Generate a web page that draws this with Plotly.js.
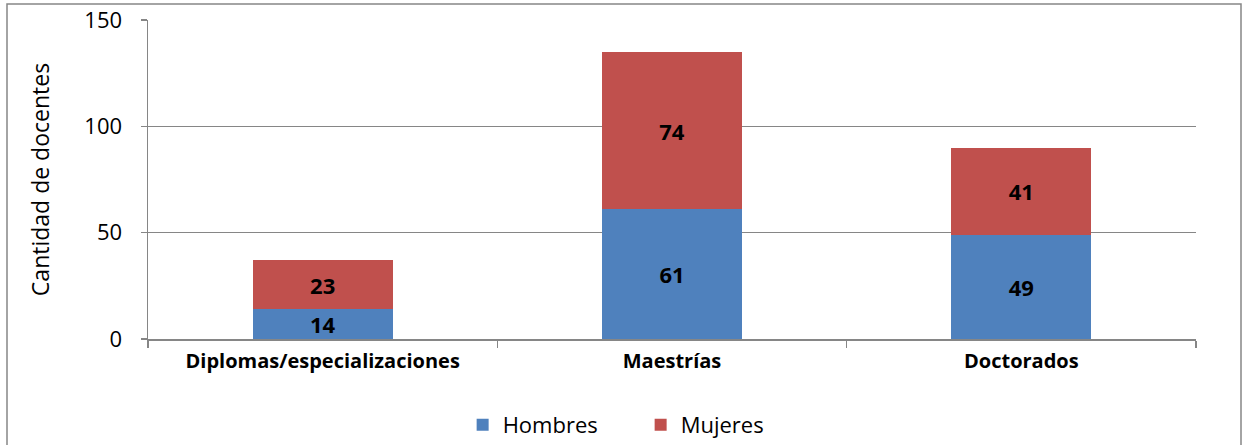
<!DOCTYPE html>
<html>
<head>
<meta charset="utf-8">
<script src="https://cdn.plot.ly/plotly-3.0.1.min.js"></script>
<style>html,body{margin:0;padding:0;background:#fff;}#chart{width:1247px;height:445px;}</style>
</head>
<body>
<div id="chart"></div>
<script>
const categories = ["Diplomas/especializaciones", "Maestrías", "Doctorados"];
const hombres = [14, 61, 49];
const mujeres = [23, 74, 41];
const yTicks = [0, 50, 100, 150];

const FONT = "Open Sans, Liberation Sans, sans-serif";
const labelFont = {family: FONT, size: 22, color: "#000000", weight: "bold"};

const traces = [
  {type: "bar", name: "Hombres", x: categories, y: hombres, text: hombres.map(String),
   textposition: "inside", insidetextanchor: "middle", textangle: 0,
   textfont: labelFont, marker: {color: "#4F81BD"}, width: 0.4},
  {type: "bar", name: "Mujeres", x: categories, y: mujeres, text: mujeres.map(String),
   textposition: "inside", insidetextanchor: "middle", textangle: 0,
   textfont: labelFont, marker: {color: "#C0504D"}, width: 0.4}
];

const layout = {
  width: 1247, height: 445,
  barmode: "stack",
  uniformtext: {mode: "show", minsize: 22},
  margin: {l: 148, r: 51, t: 20, b: 106, autoexpand: false},
  paper_bgcolor: "#ffffff", plot_bgcolor: "#ffffff",
  font: {family: FONT, color: "#000000"},
  showlegend: true,
  legend: {orientation: "h", xref: "container", yref: "container", x: 0.371, xanchor: "left",
           y: 0.045, yanchor: "middle", entrywidth: 133, entrywidthmode: "pixels",
           font: {family: FONT, size: 22, color: "#000000"}, traceorder: "normal"},
  xaxis: {type: "category", showgrid: false, showline: true, linecolor: "#868686", linewidth: 1.5,
          ticks: "outside", tickson: "boundaries", ticklen: 7, tickcolor: "#868686", tickwidth: 1.5,
          ticklabelstandoff: 3,
          tickfont: {family: FONT, size: 20, color: "#000000", weight: "bold"}},
  yaxis: {range: [0, 150], tickvals: yTicks, ticktext: yTicks.map(String), showgrid: true,
          gridcolor: "#868686", gridwidth: 1.5, showline: true, linecolor: "#868686", linewidth: 1.5,
          ticks: "outside", ticklen: 6, tickcolor: "#868686", tickwidth: 1.5, zeroline: false,
          ticklabelstandoff: 14,
          tickfont: {family: FONT, size: 22, color: "#000000"},
          title: {text: "Cantidad de docentes", font: {family: FONT, size: 23, color: "#000000"}, standoff: 28}},
  shapes: [{type: "rect", xref: "paper", yref: "paper",
            x0: -141/1048, x1: 1093/1048, y0: -107/319, y1: 335/319,
            line: {color: "#868686", width: 1.5}, fillcolor: "rgba(0,0,0,0)", layer: "below"}]
};

Plotly.newPlot("chart", traces, layout, {displayModeBar: false, staticPlot: true});
</script>
</body>
</html>
